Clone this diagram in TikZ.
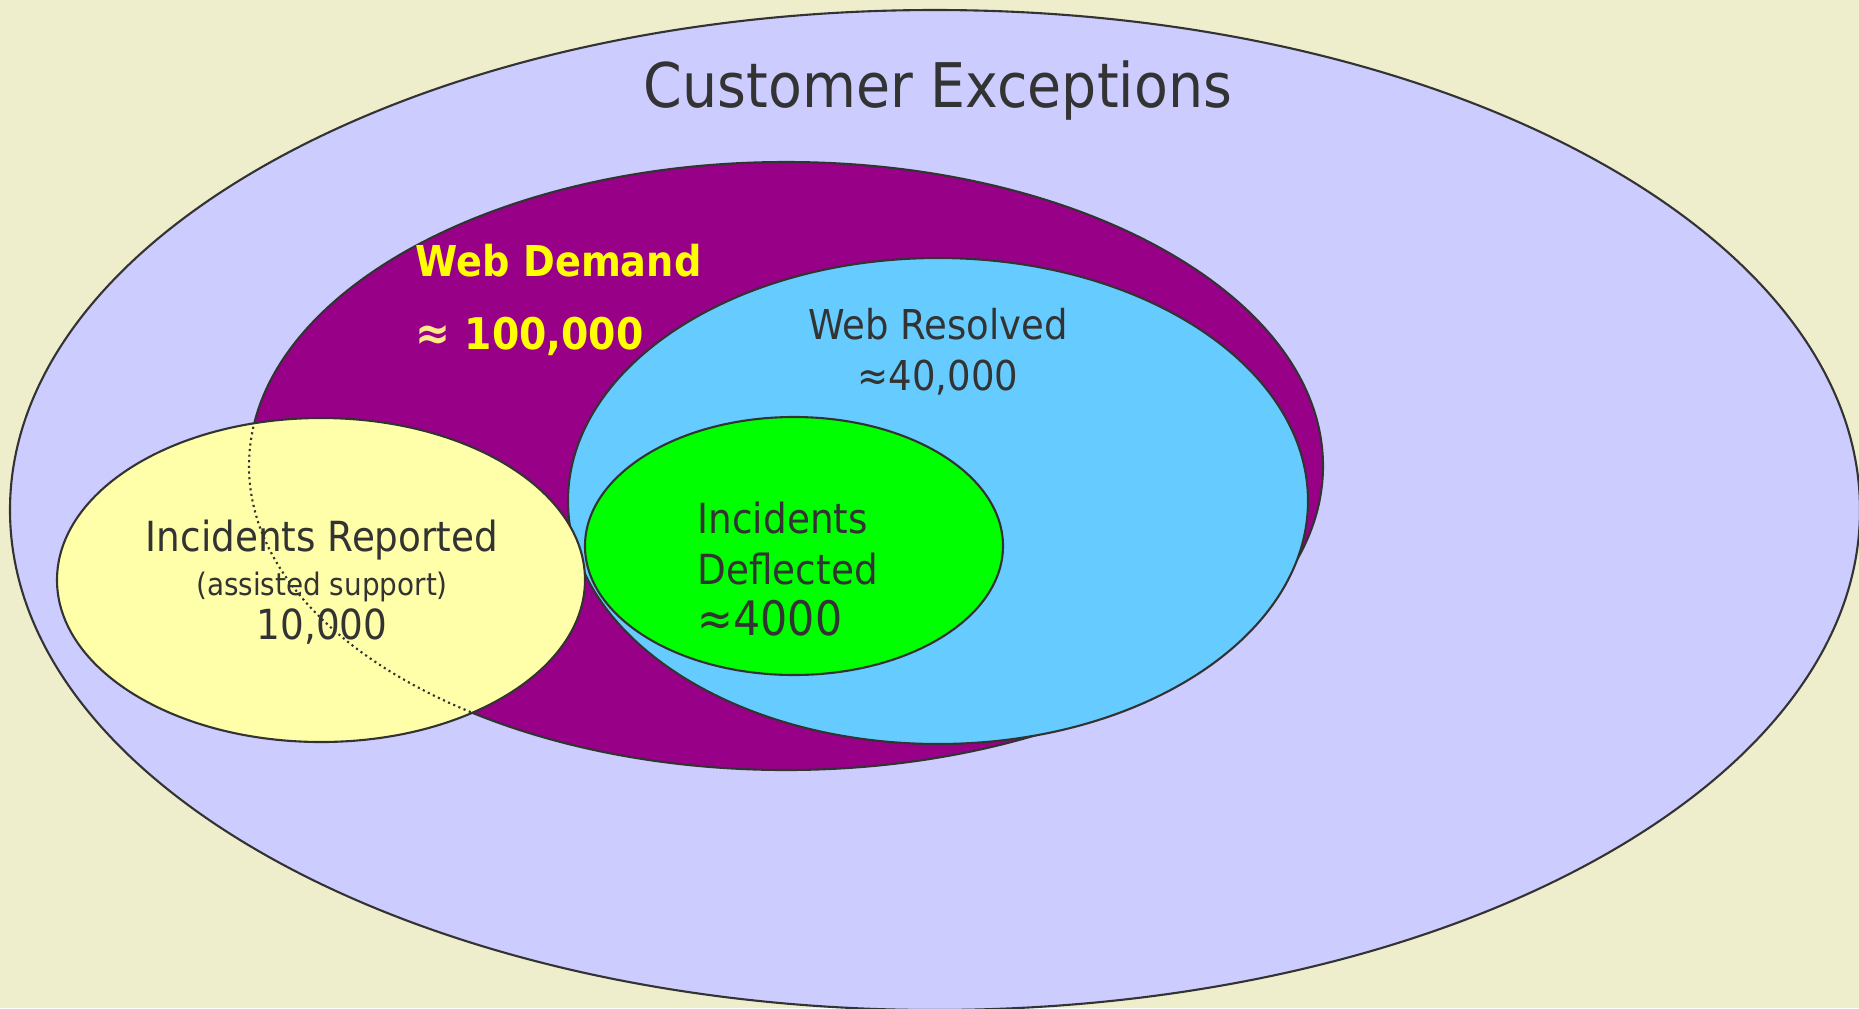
\documentclass[tikz,border=0pt]{standalone}
\usepackage{fontspec}
\setmainfont[FakeStretch=0.9]{DejaVu Sans}

\definecolor{pagebg}{HTML}{EEEECC}
\definecolor{custfill}{HTML}{CCCCFF}
\definecolor{demandfill}{HTML}{990088}
\definecolor{resolvedfill}{HTML}{66CCFF}
\definecolor{deflectfill}{HTML}{00FF00}
\definecolor{reportfill}{HTML}{FFFFAA}
\definecolor{inktext}{HTML}{333333}
\definecolor{demandtext}{HTML}{FFFF00}
\definecolor{approxtext}{HTML}{FFE98A}

\begin{document}
\begin{tikzpicture}[x=0.01cm, y=-0.01cm,
    setline/.style={draw=inktext, line width=0.6pt},
    lbl/.style={text=inktext, inner sep=0pt}]

    % --- Page and frame ---
    \useasboundingbox (0,0) rectangle (1859,1008);
    \clip (0,0) rectangle (1859,1008);
    \fill[pagebg] (0,0) rectangle (1859,1008);

    % --- Sets, outermost first ---
    \filldraw[setline, fill=custfill] (935,510) ellipse (925 and 500);
    \filldraw[setline, fill=demandfill] (786,466) ellipse (537 and 304);
    \filldraw[setline, fill=resolvedfill] (938,501) ellipse (370 and 243);
    \filldraw[setline, fill=deflectfill] (794,546) ellipse (209 and 129);
    \filldraw[setline, fill=reportfill] (321,580) ellipse (264 and 162);

    % --- Hidden edge of Web Demand under Incidents Reported ---
    \begin{scope}
        \clip (321,580) ellipse (264 and 162);
        \draw[inktext, densely dotted, line width=0.6pt] (786,466) ellipse (537 and 304);
    \end{scope}

    % --- Labels ---
    \node[lbl, font=\fontsize{17.5}{21}\selectfont] (custTitle) at (938,91) {Customer Exceptions};
    \node[lbl, text=demandtext, font=\bfseries\fontsize{12.4}{20.8}\selectfont, align=left, anchor=west]
        (demandLbl) at (415,300) {\fontsize{12.1}{20.8}\selectfont Web Demand\\{\color{approxtext}\fontsize{13.2}{20.8}\selectfont ≈}\hspace{4pt}100,000};
    \node[lbl, align=center, font=\fontsize{11.7}{14.5}\selectfont] (resolvedLbl) at (938,352) {Web Resolved\\≈40,000};
    \node[lbl, align=left, anchor=west, font=\fontsize{11.8}{14.5}\selectfont]
        (deflectLbl) at (697,569) {Incidents\\Deflected\\{\fontsize{13.5}{15}\selectfont ≈4000}};
    \node[lbl, align=center, font=\fontsize{11.8}{12.5}\selectfont]
        (reportLbl) at (322,582) {Incidents Reported\\{\fontsize{8.8}{12.5}\selectfont (assisted support)}\\10,000};

\end{tikzpicture}
\end{document}
